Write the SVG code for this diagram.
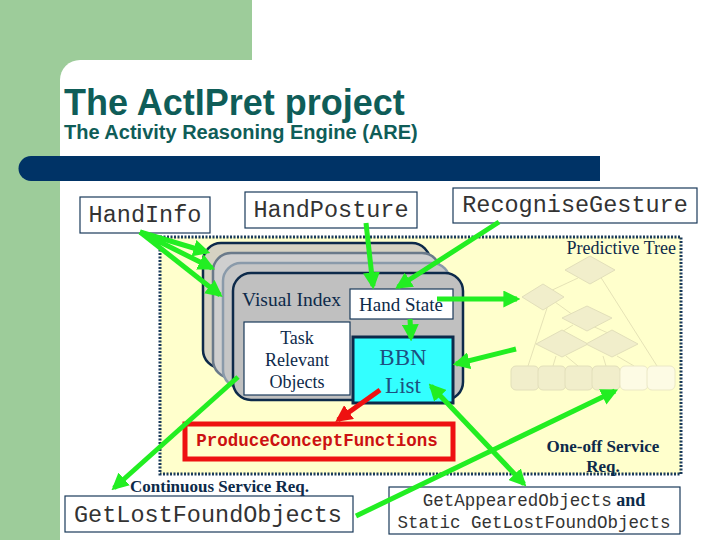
<svg xmlns="http://www.w3.org/2000/svg" width="720" height="540" viewBox="0 0 720 540">
<defs>
<style>
.mono{font-family:"Liberation Mono","Courier New",monospace;fill:#333}
.serif{font-family:"Liberation Serif","Times New Roman",serif;fill:#0d2a4a}
.box{fill:#fff;stroke:#1a3a5a;stroke-width:1.2}
.g{stroke:#22ee22;stroke-width:5;fill:none}
.tr{fill:#f1eecb;stroke:#e2dfba;stroke-width:1}
.tl{stroke:#dedab0;stroke-width:0.8;fill:none}
</style>
<marker id="ga" viewBox="0 0 10 10" refX="8" refY="5" markerWidth="3.4" markerHeight="3.4" orient="auto-start-reverse" markerUnits="strokeWidth"><path d="M0,0 L10,5 L0,10 z" fill="#22ee22"/></marker>
<marker id="ra" viewBox="0 0 10 10" refX="8" refY="5" markerWidth="3.4" markerHeight="3.4" orient="auto" markerUnits="strokeWidth"><path d="M0,0 L10,5 L0,10 z" fill="#ee1111"/></marker>
</defs>
<rect width="720" height="540" fill="#fff"/>
<g id="background">
<rect x="0" y="0" width="252" height="80" fill="#9dcc9a"/>
<rect x="0" y="0" width="60" height="540" fill="#9dcc9a"/>
<path d="M60,80 A20,20 0 0 1 80,60 L252,60 L252,80 Z" fill="#fff"/>
<rect x="60" y="80" width="660" height="460" fill="#fff"/>
<path d="M31,156 L600,156 L600,181 L31,181 A12.5,12.5 0 0 1 31,156 Z" fill="#003366"/>
<text x="64" y="115" font-family="Liberation Sans,Arial,sans-serif" font-weight="bold" font-size="36" fill="#0f5d58">The ActIPret project</text>
<text x="64" y="139" font-family="Liberation Sans,Arial,sans-serif" font-weight="bold" font-size="20" fill="#0f5d58">The Activity Reasoning Engine (ARE)</text>
</g>
<g id="region">
<rect x="160" y="237" width="521" height="237" fill="#ffffcc" stroke="#1a3a5a" stroke-width="3" stroke-dasharray="2,1.5"/>
<text class="serif" x="676" y="254" font-size="18" text-anchor="end">Predictive Tree</text>
</g>
<g id="predictive-tree">
<path class="tl" d="M578,278 L548,292 M600,276 L657,366 M548,305 L528,366 M555,302 L573,315 M573,325 L560,333 M590,325 L608,333 M556,356 L553,366 M566,356 L578,366 M603,356 L606,366 M617,356 L634,366"/>
<polygon class="tr" points="590,256 615,270 590,284 565,270"/>
<polygon class="tr" points="543,284 564,297 543,310 522,297"/>
<polygon class="tr" points="587,306 612,318 587,331 562,318"/>
<polygon class="tr" points="562,330 588,344 562,357 536,344"/>
<polygon class="tr" points="612,330 638,344 612,357 586,344"/>
<rect class="tr" x="511" y="366" width="28" height="24" rx="5"/>
<rect class="tr" x="538" y="366" width="28" height="24" rx="5"/>
<rect class="tr" x="565" y="366" width="28" height="24" rx="5"/>
<rect class="tr" x="592" y="366" width="28" height="24" rx="5"/>
<rect x="620" y="366" width="28" height="24" rx="5" fill="#fdfbe4" stroke="#ebe8c6"/>
<rect x="647" y="366" width="28" height="24" rx="5" fill="#fdfbe4" stroke="#ebe8c6"/>
</g>
<g id="visual-index">
<rect x="203" y="243" width="227" height="125" rx="18" fill="#d6d2c2" stroke="#0d2a4a" stroke-width="2.5"/>
<rect x="213" y="253" width="227" height="125" rx="18" fill="#cfcfcf" stroke="#6a7a8a" stroke-width="2.5"/>
<rect x="223" y="263" width="227" height="125" rx="18" fill="#c6c6c6" stroke="#8a9aaa" stroke-width="2.5"/>
<rect x="233" y="273" width="230" height="127" rx="18" fill="#c0c0c0" stroke="#0d2a4a" stroke-width="2.5"/>
<text class="serif" x="242" y="306" font-size="19.5">Visual Index</text>
</g>
<g id="hand-state">
<rect class="box" x="350" y="289" width="103" height="30"/>
<text class="serif" x="401" y="311" font-size="19" text-anchor="middle">Hand State</text>
</g>
<g id="task-relevant">
<rect class="box" x="244" y="322" width="106" height="73"/>
<text class="serif" x="297" y="344" font-size="18" text-anchor="middle">Task</text>
<text class="serif" x="297" y="366" font-size="18" text-anchor="middle">Relevant</text>
<text class="serif" x="297" y="388" font-size="18" text-anchor="middle">Objects</text>
</g>
<g id="bbn-list">
<rect x="353" y="337" width="100" height="66" fill="#33ffff" stroke="#0d2a4a" stroke-width="3"/>
<text x="403" y="365" font-family="Liberation Serif,serif" font-size="23" fill="#1d5080" text-anchor="middle">BBN</text>
<text x="403" y="393" font-family="Liberation Serif,serif" font-size="23" fill="#1d5080" text-anchor="middle">List</text>
</g>
<g id="produce">
<rect x="185" y="424" width="268" height="35" fill="#ffffcc" stroke="#ee1111" stroke-width="5"/>
<text x="317" y="446" font-family="Liberation Mono,monospace" font-weight="bold" font-size="17.5" fill="#cc1111" text-anchor="middle">ProduceConceptFunctions</text>
</g>
<g id="hand-info">
<rect class="box" x="80" y="197" width="130" height="36"/>
<text class="mono" x="145" y="222" font-size="23.5" text-anchor="middle">HandInfo</text>
</g>
<g id="hand-posture">
<rect class="box" x="245" y="192" width="172" height="36"/>
<text class="mono" x="331" y="217" font-size="23.5" text-anchor="middle">HandPosture</text>
</g>
<g id="recognise-gesture">
<rect class="box" x="453" y="188" width="244" height="35"/>
<text class="mono" x="575" y="212" font-size="23.5" text-anchor="middle">RecogniseGesture</text>
</g>
<g id="labels">
<text class="serif" x="603" y="452" font-size="17" font-weight="bold" text-anchor="middle">One-off Service</text>
<text class="serif" x="603" y="472" font-size="17" font-weight="bold" text-anchor="middle">Req.</text>
<text class="serif" x="130" y="492" font-size="17" font-weight="bold">Continuous Service Req.</text>
</g>
<g id="get-lost-found">
<rect class="box" x="65" y="496" width="288" height="36"/>
<text class="mono" x="208" y="522" font-size="23.5" text-anchor="middle">GetLostFoundObjects</text>
</g>
<g id="get-appeared">
<rect class="box" x="389" y="487" width="291" height="47"/>
<text x="534" y="506" text-anchor="middle"><tspan class="mono" font-size="17.5">GetAppearedObjects</tspan><tspan class="serif" font-size="18" font-weight="bold"> and</tspan></text>
<text class="mono" x="534" y="528" font-size="17.5" text-anchor="middle">Static GetLostFoundObjects</text>
</g>
<g id="connectors">
<line class="g" x1="140" y1="232" x2="207" y2="252" marker-end="url(#ga)"/>
<line class="g" x1="140" y1="232" x2="212" y2="268" marker-end="url(#ga)"/>
<line class="g" x1="140" y1="232" x2="220" y2="295" marker-end="url(#ga)"/>
<line class="g" x1="366" y1="223" x2="373" y2="286" marker-end="url(#ga)"/>
<line class="g" x1="499" y1="222" x2="398" y2="287" marker-end="url(#ga)"/>
<line class="g" x1="437" y1="299" x2="517" y2="299" marker-end="url(#ga)"/>
<line class="g" x1="410" y1="319" x2="411" y2="338" marker-end="url(#ga)"/>
<line class="g" x1="516" y1="349" x2="456" y2="364" marker-end="url(#ga)"/>
<line class="g" x1="431" y1="386" x2="524" y2="484" marker-start="url(#ga)" marker-end="url(#ga)"/>
<line class="g" x1="356" y1="516" x2="615" y2="391" marker-end="url(#ga)"/>
<line class="g" x1="238" y1="377" x2="114" y2="488" marker-end="url(#ga)"/>
<line x1="380" y1="390" x2="338" y2="420" stroke="#ee1111" stroke-width="5" marker-end="url(#ra)"/>
</g>
</svg>
